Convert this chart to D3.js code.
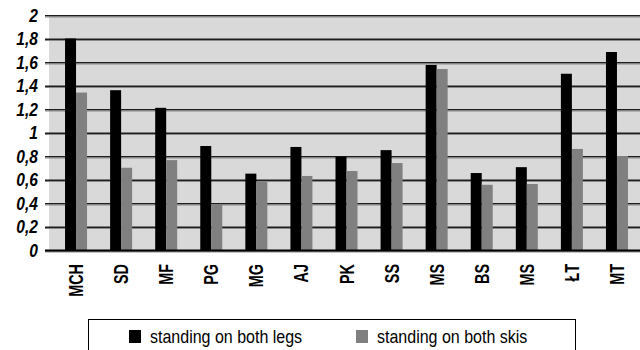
<!DOCTYPE html>
<html><head><meta charset="utf-8">
<script src="https://cdn.jsdelivr.net/npm/d3@7/dist/d3.min.js"></script>
<style>
html,body{margin:0;padding:0;background:#fff;}
svg{display:block;}
text{font-family:"Liberation Sans",Arial,sans-serif;}
</style></head>
<body>
<svg id="chart" width="640" height="350"></svg>
<script>
const categories = ["MCH","SD","MF","PG","MG","AJ","PK","SS","MS","BS","MS","ŁT","MT"];
const seriesNames = ["standing on both legs","standing on both skis"];
const bothLegs = [1.80,1.36,1.21,0.885,0.65,0.877,0.795,0.85,1.575,0.655,0.705,1.50,1.685];
const bothSkis = [1.34,0.70,0.765,0.39,0.58,0.63,0.672,0.74,1.54,0.555,0.562,0.86,0.80];
const yTicks = [0,0.2,0.4,0.6,0.8,1,1.2,1.4,1.6,1.8,2];
const colors = ["#000000","#808080"];

const svg = d3.select("#chart");
const plotLeft = 49, plotRight = 640, plotTop = 15, plotBottom = 250;

const y = d3.scaleLinear().domain([0,2]).range([plotBottom, plotTop]);
const x = d3.scaleBand().domain(d3.range(categories.length)).range([53.5, 639.5]).paddingInner(0.512).paddingOuter(0.256);
const xs = d3.scaleBand().domain([0,1]).range([0, x.bandwidth()]);

svg.append("rect").attr("x", plotLeft).attr("y", plotTop)
  .attr("width", plotRight - plotLeft).attr("height", plotBottom - plotTop)
  .attr("fill", "#d9d9d9");

const yAxis = d3.axisLeft(y).tickValues(yTicks)
  .tickSize(-(plotRight - 45)).tickPadding(7)
  .tickFormat(d => d3.format("")(d).replace(".", ","));
const ga = svg.append("g").attr("transform", `translate(45,0)`).call(yAxis);
ga.select(".domain").remove();
ga.selectAll(".tick line").attr("stroke", "#1e1e1e").attr("stroke-width", 1.5)
  .attr("transform", "translate(0,0.25)");
ga.selectAll(".tick").append("line")
  .attr("x1", 0).attr("x2", plotRight - 45).attr("y1", 1.5).attr("y2", 1.5)
  .attr("stroke", "#8a8a8a").attr("stroke-width", 1);
ga.selectAll(".tick text")
  .attr("x", 0).attr("transform", "translate(-7,0) scale(0.82,1)")
  .attr("font-size", 19).attr("font-weight", "bold").attr("font-style", "italic")
  .attr("fill", "#000");

const data = categories.map((c, i) => ({i, vals: [bothLegs[i], bothSkis[i]]}));
const groups = svg.append("g").selectAll("g").data(data).join("g")
  .attr("transform", d => `translate(${x(d.i)},0)`);
groups.selectAll("rect").data(d => d.vals.map((v, k) => ({k, v}))).join("rect")
  .attr("x", d => xs(d.k)).attr("width", xs.bandwidth())
  .attr("y", d => y(d.v)).attr("height", d => y(0) - y(d.v))
  .attr("fill", d => colors[d.k]);

svg.append("line").attr("x1", 45).attr("x2", 640)
  .attr("y1", y(0) + 0.5).attr("y2", y(0) + 0.5)
  .attr("stroke", "#000").attr("stroke-width", 2);

svg.append("g").selectAll("text").data(categories).join("text")
  .attr("transform", (d, i) => `translate(${x(i) + x.bandwidth()/2 + 7},264) rotate(-90) scale(0.72,1)`)
  .attr("text-anchor", "end")
  .attr("font-size", 20).attr("font-weight", "bold")
  .attr("fill", "#000")
  .text(d => d);

svg.append("rect").attr("x", 88.5).attr("y", 319.5).attr("width", 487).attr("height", 40)
  .attr("fill", "#fff").attr("stroke", "#000").attr("stroke-width", 1);
const legX = [129, 356];
const lg = svg.append("g").selectAll("g").data(seriesNames).join("g")
  .attr("transform", (d, i) => `translate(${legX[i]},330)`);
lg.append("rect").attr("width", 12).attr("height", 13).attr("fill", (d, i) => colors[i]);
lg.append("text").attr("transform", "translate(21,12.5) scale(0.89,1)")
  .attr("font-size", 18).attr("fill", "#000").text(d => d);
</script>
</body></html>
